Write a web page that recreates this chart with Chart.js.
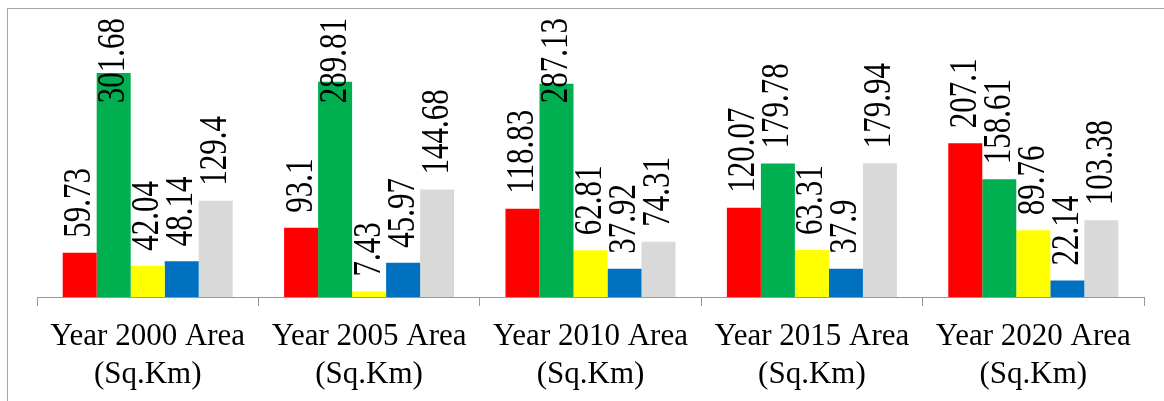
<!DOCTYPE html>
<html>
<head>
<meta charset="utf-8">
<script src="https://cdn.jsdelivr.net/npm/chart.js@4"></script>
<style>
  html, body { margin: 0; padding: 0; background: #fff; overflow: hidden; width: 1164px; height: 401px; }
  #frame {
    position: absolute; left: 7px; top: 8px; width: 1200px; height: 450px;
    border: 1px solid #a6a6a6; box-sizing: border-box;
  }
  #wrap { position: absolute; left: 0; top: 0; width: 1164px; height: 410px; }
</style>
</head>
<body>
<div id="frame"></div>
<div id="wrap"><canvas id="chart"></canvas></div>
<script>
const categories = [
  ["Year 2000 Area", "(Sq.Km)"],
  ["Year 2005 Area", "(Sq.Km)"],
  ["Year 2010 Area", "(Sq.Km)"],
  ["Year 2015 Area", "(Sq.Km)"],
  ["Year 2020 Area", "(Sq.Km)"]
];
const seriesNames = ["Series 1", "Series 2", "Series 3", "Series 4", "Series 5"];
const redValues = [59.73, 93.1, 118.83, 120.07, 207.1];
const greenValues = [301.68, 289.81, 287.13, 179.78, 158.61];
const yellowValues = [42.04, 7.43, 62.81, 63.31, 89.76];
const blueValues = [48.14, 45.97, 37.92, 37.9, 22.14];
const grayValues = [129.4, 144.68, 74.31, 179.94, 103.38];

const colors = ["#FF0000", "#00B050", "#FFFF00", "#0070C0", "#D9D9D9"];
const allValues = [redValues, greenValues, yellowValues, blueValues, grayValues];

const serif = "\"Liberation Serif\", \"Times New Roman\", serif";

// vertical value labels above each bar, kept inside the chart box
const barLabels = {
  id: "barLabels",
  afterDatasetsDraw(chart) {
    const ctx = chart.ctx;
    ctx.save();
    ctx.font = "normal 31px " + serif;
    ctx.fillStyle = "#000";
    ctx.textAlign = "left";
    ctx.textBaseline = "middle";
    chart.data.datasets.forEach((ds, i) => {
      const meta = chart.getDatasetMeta(i);
      meta.data.forEach((bar, j) => {
        const text = String(ds.data[j]);
        const w = ctx.measureText(text).width;
        let bottom = bar.y - 15;
        if (bottom - w < 18) bottom = 18 + w;
        ctx.save();
        ctx.translate(bar.x, bottom);
        ctx.rotate(-Math.PI / 2);
        ctx.scale(1, 1.3);
        ctx.fillText(text, 0, 0);
        ctx.restore();
      });
    });
    ctx.restore();
  }
};

const chart = new Chart(document.getElementById("chart"), {
  type: "bar",
  data: {
    labels: categories,
    datasets: allValues.map((vals, i) => ({
      label: seriesNames[i],
      data: vals,
      backgroundColor: colors[i],
      borderWidth: 0,
      categoryPercentage: 0.768,
      barPercentage: 1
    }))
  },
  options: {
    responsive: true,
    maintainAspectRatio: false,
    animation: false,
    layout: { padding: { top: 37, left: 37, right: 20, bottom: 4.5 } },
    plugins: { legend: { display: false }, tooltip: { enabled: false } },
    scales: {
      x: {
        grid: { display: true, drawOnChartArea: false, drawTicks: true, tickLength: 9, color: "#999", offset: true },
        border: { display: true, color: "#999" },
        ticks: {
          color: "#000",
          padding: 11,
          maxRotation: 0,
          autoSkip: false,
          font: { family: serif, size: 31, lineHeight: 1.25 }
        }
      },
      y: {
        display: false,
        min: 0,
        max: 350
      }
    }
  },
  plugins: [barLabels]
});

if (document.fonts) document.fonts.ready.then(() => chart.update());
</script>
</body>
</html>
